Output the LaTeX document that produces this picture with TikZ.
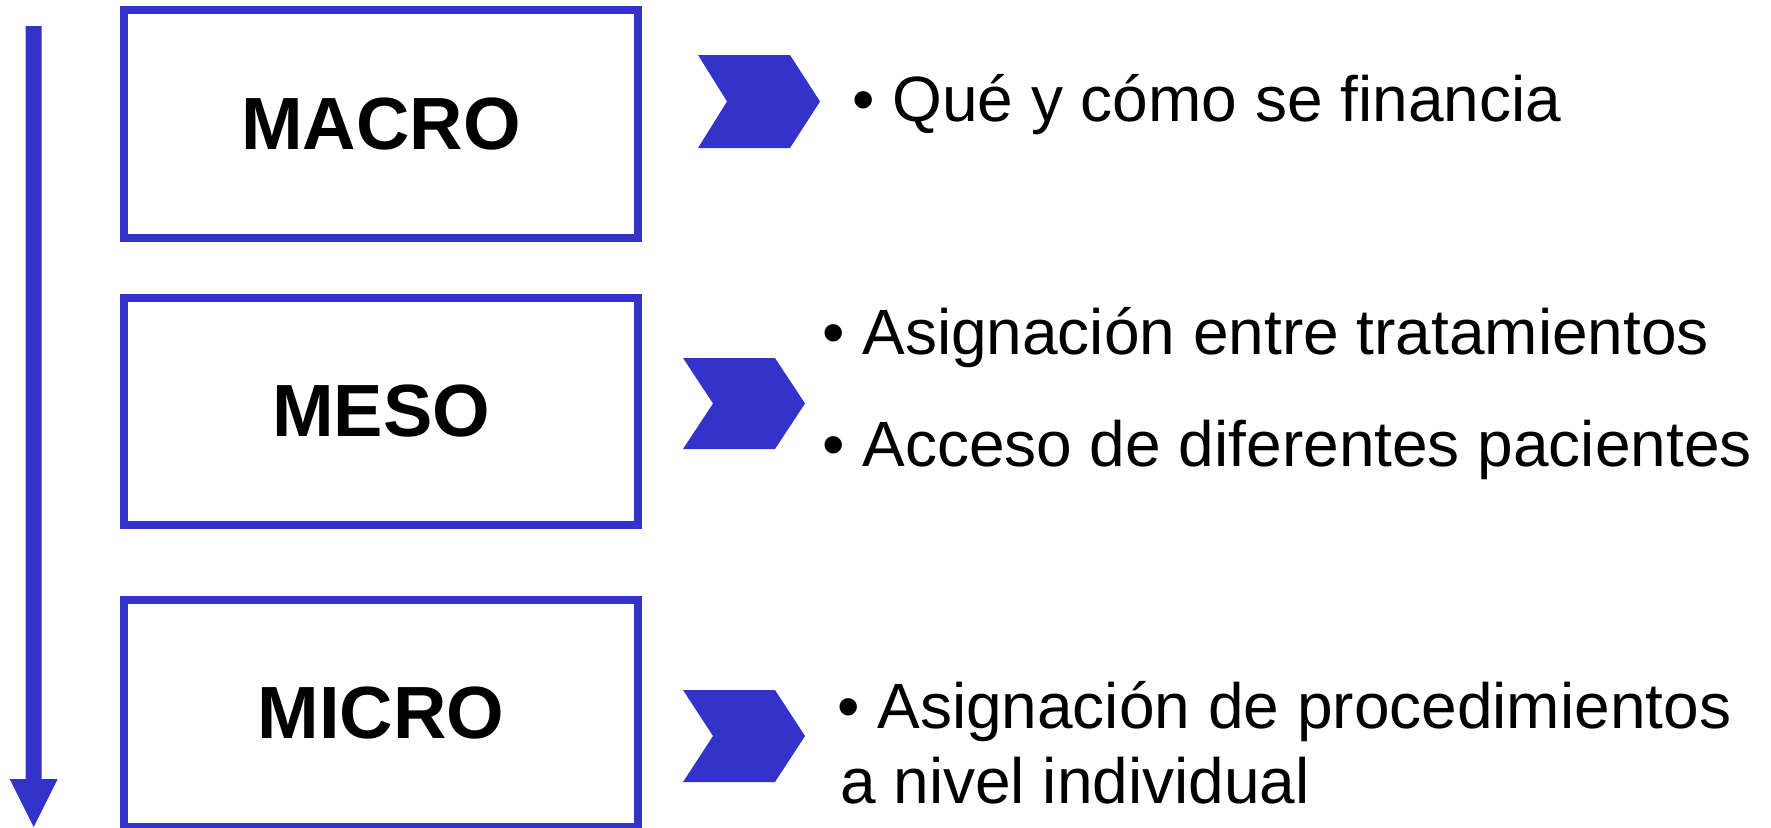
\documentclass[tikz,border=0pt]{standalone}
\usepackage{fontspec}
\setmainfont{Liberation Sans}
\definecolor{lvlblue}{RGB}{51,51,204}
\begin{document}
\begin{tikzpicture}[x=1bp,y=-1bp,
  level/.style={draw=lvlblue, line width=8bp, inner sep=0pt,
    minimum width=514bp, minimum height=227bp,
    font=\fontsize{74bp}{80bp}\selectfont\bfseries},
  item/.style={anchor=base west, inner sep=0pt,
    font=\fontsize{64bp}{75bp}\selectfont},
  chev/.style={fill=lvlblue}]
\useasboundingbox (0,0) rectangle (1771,828);

% vertical arrow
\coordinate (atop) at (33.7,26);
\coordinate (atip) at (33.7,827);
\fill[lvlblue] ([xshift=-8bp]atop) -- ([xshift=8bp]atop) -- (41.7,779) -- (57.7,779)
  -- (atip) -- (9.7,779) -- (25.7,779) -- cycle;

% level boxes
\node[level] (macro) at (381,124) {MACRO};
\node[level] (meso)  at (381,411.5) {MESO};
\node[level] (micro) at (381,713.5) {MICRO};

% chevrons
\fill[chev] (698,55) -- (790,55) -- (820,101.5) -- (790,148) -- (698,148) -- (727,101.5) -- cycle;
\fill[chev] (683,358) -- (775,358) -- (805,403.5) -- (775,449) -- (683,449) -- (713,403.5) -- cycle;
\fill[chev] (683,690) -- (775,690) -- (805,736) -- (775,782) -- (683,782) -- (713,736) -- cycle;

% texts
\node[item] (t1) at (852,121) {• Qué y cómo se financia};
\node[item] (t2) at (822,354) {• Asignación entre tratamientos};
\node[item] (t3) at (822,466) {• Acceso de diferentes pacientes};
\node[item] (t4) at (837,728) {• Asignación de procedimientos};
\node[item] (t5) at (840,803) {a nivel individual};
\end{tikzpicture}
\end{document}
